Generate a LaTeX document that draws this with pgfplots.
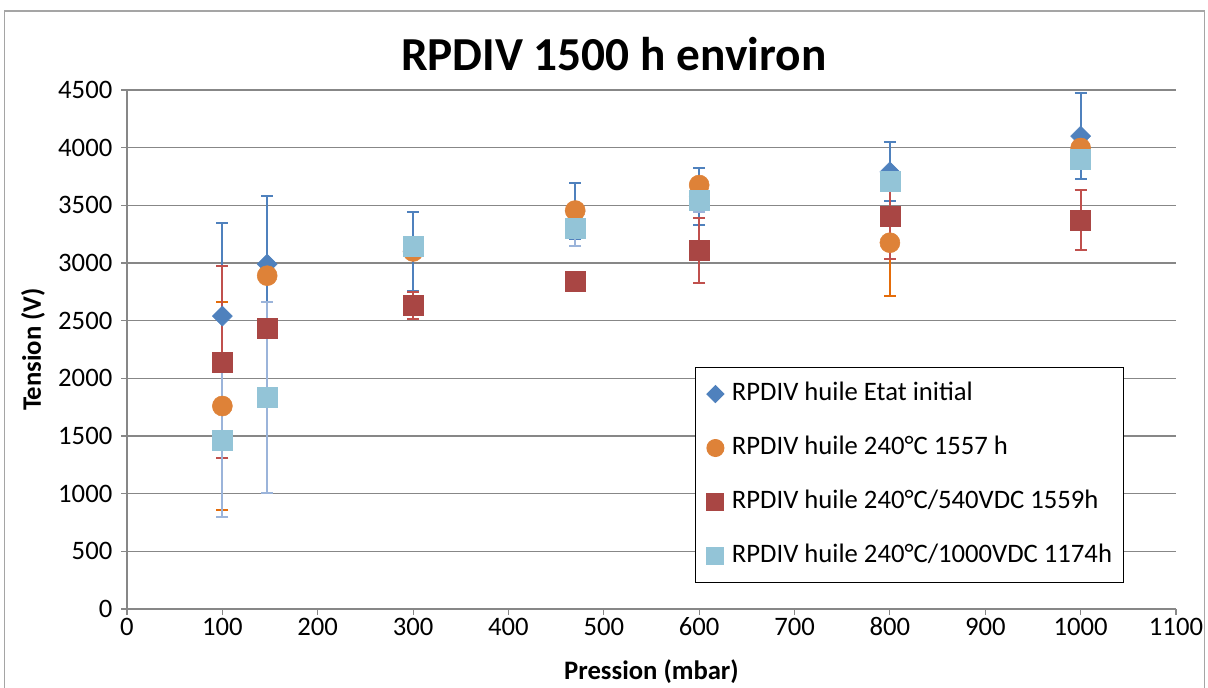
\documentclass[border=0pt]{standalone}
\usepackage{fontspec}
\setmainfont{Carlito}
\usepackage{pgfplots}
\usepackage{pgfplotstable}
\pgfplotsset{compat=1.18}

\definecolor{serA}{HTML}{4F81BD}
\definecolor{serB}{HTML}{DE8238}
\definecolor{serC}{HTML}{A94644}
\definecolor{serD}{HTML}{93C4D7}
\definecolor{errB}{HTML}{E46C0A}
\definecolor{errC}{HTML}{C0504D}
\definecolor{errD}{HTML}{9BB4DA}
\definecolor{gridc}{HTML}{878787}

% marks above every error bar, as in the original
\pgfplotsset{
  layers/markstop/.define layer set={axis background,axis grid,axis ticks,axis lines,axis tick labels,pre main,main,marks,axis descriptions,axis foreground}{},
}

% pression, tension, erreur
\pgfplotstableread{
x    y     e
100  2540  810
147  2990  590
300  3100  345
470  3450  240
600  3575  247
800  3790  255
1000 4100  372
}\etatinitial
\pgfplotstableread{
x    y     e
100  1760  905
147  2890  40
300  3100  40
470  3455  40
600  3676  40
800  3176  460
1000 3997  40
}\huilecinq
\pgfplotstableread{
x    y     e
100  2140  830
147  2437  40
300  2633  115
470  2838  40
600  3107  283
800  3402  370
1000 3373  260
}\huilevdc
\pgfplotstableread{
x    y     e
100  1460  665
147  1836  826
300  3147  40
470  3300  155
600  3540  100
800  3711  40
1000 3899  40
}\huilemille

\begin{document}
\begin{tikzpicture}
\begin{axis}[
    at={(95.25pt,58.5pt)}, anchor=south west,
    scale only axis, width=786.75pt, height=389.25pt,
    set layers=markstop, mark layer=marks,
    xmin=0, xmax=1100, ymin=0, ymax=4500,
    xtick={0,100,...,1100}, ytick={0,500,...,4500},
    axis x line=bottom, axis y line=left,
    axis line style={-, gridc, line width=1pt},
    ymajorgrids, grid style={gridc, line width=1.1pt},
    tick align=outside, major tick length=4.5pt,
    tick style={gridc, line width=0.8pt},
    /pgf/number format/1000 sep={},
    /pgf/number format/assume math mode=true,
    ticklabel style={font=\fontsize{20}{24}\selectfont},
    yticklabel style={xshift=-3pt},
    xticklabel style={yshift=1.5pt},
    title={RPDIV 1500 h environ},
    title style={font=\bfseries\fontsize{35.5}{40}\selectfont, at={(0.464,1)}, anchor=base, yshift=9pt},
    xlabel={Pression (mbar)}, ylabel={Tension (V)},
    label style={font=\bfseries\fontsize{20}{24}\selectfont},
    xlabel style={at={(axis description cs:0.5,-0.121)}, anchor=center},
    ylabel style={at={(axis description cs:-0.0896,0.5)}, anchor=center},
    legend style={at={(0.95,0.05)}, anchor=south east, draw=black, line width=0.75pt,
        fill=white, font=\fontsize{20}{24}\selectfont, inner xsep=8.25pt, inner ysep=10.9pt,
        row sep=22.5pt, column sep=6pt,
        nodes={inner sep=0pt, text height=14pt, text depth=4pt}},
    legend cell align=left,
    legend image post style={every mark/.append style={scale=0.85}},
]

\addplot[only marks, mark=square*, mark size=5.3pt, mark options={rotate=45, fill=serA, draw=serA},
    error bars/.cd, y dir=both, y explicit,
    error bar style={serA, line width=1.5pt},
    error mark options={rotate=90, serA, mark size=4.5pt, line width=1.5pt}]
    table[x=x, y=y, y error=e] {\etatinitial};
\addlegendentry{RPDIV huile Etat initial}

\addplot[only marks, mark=*, mark size=7.5pt, mark options={fill=serB, draw=serB},
    error bars/.cd, y dir=both, y explicit,
    error bar style={errB, line width=1.5pt},
    error mark options={rotate=90, errB, mark size=4.5pt, line width=1.5pt}]
    table[x=x, y=y, y error=e] {\huilecinq};
\addlegendentry{RPDIV huile 240°C 1557 h}

\addplot[only marks, mark=square*, mark size=7.5pt, mark options={fill=serC, draw=serC},
    error bars/.cd, y dir=both, y explicit,
    error bar style={errC, line width=1.5pt},
    error mark options={rotate=90, errC, mark size=4.5pt, line width=1.5pt}]
    table[x=x, y=y, y error=e] {\huilevdc};
\addlegendentry{RPDIV huile 240°C/540VDC 1559h}

\addplot[only marks, mark=square*, mark size=7.5pt, mark options={fill=serD, draw=serD},
    error bars/.cd, y dir=both, y explicit,
    error bar style={errD, line width=1.5pt},
    error mark options={rotate=90, errD, mark size=4.5pt, line width=1.5pt}]
    table[x=x, y=y, y error=e] {\huilemille};
\addlegendentry{RPDIV huile 240°C/1000VDC 1174h}

\end{axis}
\draw[gridc!75, line width=0.9pt] (3.5pt,-5pt) rectangle (903.5pt,507pt);
\pgfresetboundingbox
\useasboundingbox (0,0) rectangle (906pt,515.25pt);
\end{tikzpicture}
\end{document}
